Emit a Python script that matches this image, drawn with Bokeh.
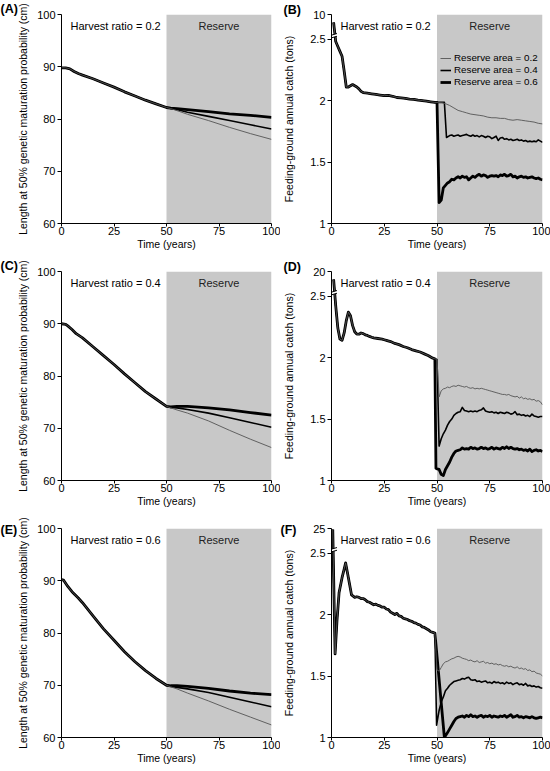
from bokeh.plotting import figure
from bokeh.layouts import row, column
from bokeh.models import (Range1d, FixedTicker, Label, BoxAnnotation, Legend, LegendItem)
from bokeh.embed import file_html
from bokeh.resources import INLINE

FONT = "Liberation Sans"

# ---------------- shared tick / category data ----------------
year_ticks = [0, 25, 50, 75, 100]
reserve_start = 50
reserve_end = 100
harvest_ratios = [0.2, 0.4, 0.6]
reserve_areas = [0.2, 0.4, 0.6]
letters_left = ["(A)", "(C)", "(E)"]
letters_right = ["(B)", "(D)", "(F)"]
length_ticks = [60, 70, 80, 90, 100]
catch_ticks = [1, 1.5, 2, 2.5]
catch_tick_labels = ["1", "1.5", "2", "2.5"]
catch_break = 2.5          # axis is broken above this value
catch_top_tons = [10, 20, 25]  # value of the top tick above the break

# ---------------- length at 50% maturation (left panels) ----------------
# harvest ratio 0.2
tA_pre = [0, 2, 4, 6, 8, 10, 15, 20, 25, 30, 35, 40, 45, 50]
lA_pre = [89.8, 89.8, 89.6, 89.1, 88.7, 88.4, 87.7, 86.9, 86.1, 85.2, 84.4, 83.6, 82.9, 82.2]
tA_post = [52, 55, 60, 70, 80, 90, 100]
lA_r02 = [82.0, 81.6, 80.9, 79.7, 78.4, 77.2, 76.1]
lA_r04 = [82.0, 81.8, 81.3, 80.5, 79.7, 78.9, 78.1]
lA_r06 = [82.1, 82.0, 81.8, 81.4, 81.0, 80.7, 80.3]
# harvest ratio 0.4
tC_pre = [0, 2, 3, 5, 7, 10, 15, 20, 25, 30, 35, 40, 45, 50]
lC_pre = [90.0, 89.9, 89.6, 88.9, 88.1, 87.3, 85.6, 83.9, 82.2, 80.4, 78.7, 77.0, 75.6, 74.2]
tC_post = [52, 55, 60, 70, 80, 90, 100]
lC_r02 = [73.9, 73.5, 72.9, 71.4, 69.6, 67.9, 66.3]
lC_r04 = [74.0, 73.9, 73.6, 72.9, 72.0, 71.1, 70.2]
lC_r06 = [74.1, 74.2, 74.2, 73.9, 73.5, 73.0, 72.5]
# harvest ratio 0.6
tE_pre = [0, 1, 3, 5, 8, 10, 15, 20, 25, 30, 35, 40, 45, 50]
lE_pre = [90.2, 90.1, 88.9, 87.9, 86.7, 85.8, 83.3, 80.8, 78.6, 76.4, 74.5, 72.8, 71.3, 70.0]
tE_post = [52, 55, 60, 70, 80, 90, 100]
lE_r02 = [69.7, 69.3, 68.5, 67.0, 65.4, 63.9, 62.4]
lE_r04 = [69.8, 69.6, 69.3, 68.6, 67.7, 66.8, 65.9]
lE_r06 = [69.9, 69.9, 69.8, 69.4, 68.9, 68.5, 68.2]

# ---------------- feeding-ground annual catch, tons (right panels) ----------------
# harvest ratio 0.2
tB_pre = [1, 2, 3, 4, 5, 6, 7, 8, 9, 10, 11, 12, 13, 14, 15, 17, 19, 21, 23, 25, 27, 29,
          31, 33, 35, 37, 39, 41, 43, 45, 47, 49, 50]
cB_pre = [7.6, 2.48, 2.44, 2.40, 2.36, 2.24, 2.11, 2.11, 2.12, 2.13, 2.12, 2.11, 2.095,
          2.075, 2.065, 2.06, 2.055, 2.05, 2.045, 2.04, 2.042, 2.035, 2.025, 2.022, 2.018,
          2.012, 2.01, 2.004, 2.0, 1.995, 1.99, 1.985, 1.985]
tB_r02 = [52, 54, 56, 58, 60, 62, 64, 66, 68, 70, 72, 74, 76, 78, 80, 82, 84, 86, 88, 90,
          92, 94, 96, 98, 100]
cB_r02 = [1.985, 1.975, 1.96, 1.94, 1.92, 1.91, 1.90, 1.89, 1.885, 1.88, 1.875, 1.865,
          1.86, 1.86, 1.855, 1.855, 1.845, 1.84, 1.845, 1.84, 1.835, 1.83, 1.825, 1.815, 1.81]
tB_r04 = [52, 53.5, 54.5, 56, 57, 58, 59, 60, 61, 62, 63, 64, 65, 66, 67, 68, 69, 70, 71,
          72, 73, 74, 75, 76, 77, 78, 79, 80, 81, 82, 83, 84, 85, 86, 87, 88, 89, 90, 91,
          92, 93, 94, 95, 96, 97, 98, 99, 100]
cB_r04 = [1.985, 1.985, 1.70, 1.715, 1.72, 1.71, 1.715, 1.72, 1.71, 1.715, 1.72, 1.725,
          1.715, 1.71, 1.72, 1.71, 1.715, 1.705, 1.715, 1.71, 1.70, 1.71, 1.705, 1.69, 1.70,
          1.71, 1.675, 1.695, 1.70, 1.685, 1.69, 1.68, 1.685, 1.675, 1.68, 1.685, 1.675,
          1.68, 1.67, 1.675, 1.665, 1.67, 1.665, 1.67, 1.665, 1.68, 1.67, 1.66]
tB_r06 = [51, 52, 53, 54, 55, 56, 57, 58, 59, 60, 61, 62, 63, 64, 65, 66, 67, 68, 69, 70,
          71, 72, 73, 74, 75, 76, 77, 78, 79, 80, 81, 82, 83, 84, 85, 86, 87, 88, 89, 90,
          91, 92, 93, 94, 95, 96, 97, 98, 99, 100]
cB_r06 = [1.17, 1.19, 1.29, 1.31, 1.33, 1.34, 1.36, 1.355, 1.37, 1.38, 1.37, 1.385, 1.375,
          1.38, 1.355, 1.37, 1.385, 1.375, 1.39, 1.40, 1.385, 1.395, 1.39, 1.375, 1.385,
          1.39, 1.385, 1.39, 1.38, 1.395, 1.39, 1.40, 1.385, 1.39, 1.40, 1.38, 1.385, 1.37,
          1.38, 1.385, 1.375, 1.38, 1.37, 1.375, 1.38, 1.37, 1.365, 1.37, 1.36, 1.355]

# harvest ratio 0.4
tD_pre = [1, 2, 3, 4, 5, 6, 7, 8, 9, 10, 11, 12, 13, 14, 15, 16, 17, 18, 19, 20, 22, 24,
          25, 26, 28, 30, 32, 34, 36, 38, 40, 42, 44, 46, 48, 49]
cD_pre = [14.4, 2.42, 2.24, 2.15, 2.14, 2.20, 2.30, 2.37, 2.34, 2.26, 2.21, 2.19, 2.19,
          2.20, 2.195, 2.185, 2.18, 2.172, 2.165, 2.16, 2.155, 2.15, 2.145, 2.14, 2.13,
          2.115, 2.105, 2.09, 2.08, 2.065, 2.055, 2.045, 2.03, 2.015, 1.995, 1.99]
years_51_100 = list(range(51, 101))
tD_r02 = [50] + years_51_100
cD_r02 = [1.985, 1.68, 1.73, 1.745, 1.75, 1.76, 1.755, 1.765, 1.77, 1.765, 1.775, 1.77,
          1.765, 1.76, 1.765, 1.755, 1.75, 1.755, 1.745, 1.75, 1.745, 1.75, 1.745, 1.74,
          1.735, 1.73, 1.725, 1.72, 1.715, 1.71, 1.705, 1.70, 1.70, 1.695, 1.70, 1.69,
          1.685, 1.68, 1.685, 1.67, 1.68, 1.665, 1.67, 1.66, 1.665, 1.655, 1.66, 1.645,
          1.65, 1.64, 1.615]
tD_r04 = [50] + years_51_100
cD_r04 = [1.985, 1.28, 1.34, 1.38, 1.41, 1.45, 1.48, 1.50, 1.53, 1.545, 1.555, 1.56,
          1.595, 1.57, 1.565, 1.56, 1.565, 1.56, 1.565, 1.56, 1.57, 1.575, 1.59, 1.565,
          1.56, 1.555, 1.56, 1.55, 1.555, 1.545, 1.555, 1.55, 1.545, 1.555, 1.55, 1.54,
          1.545, 1.56, 1.535, 1.54, 1.53, 1.535, 1.525, 1.53, 1.52, 1.54, 1.525, 1.52,
          1.515, 1.52, 1.52]
tD_r06 = [49.5, 50] + years_51_100
cD_r06 = [1.10, 1.095, 1.09, 1.05, 1.04, 1.09, 1.12, 1.15, 1.19, 1.22, 1.24, 1.245, 1.25,
          1.265, 1.255, 1.26, 1.255, 1.27, 1.26, 1.265, 1.255, 1.26, 1.27, 1.26, 1.265,
          1.255, 1.26, 1.27, 1.255, 1.265, 1.26, 1.255, 1.27, 1.26, 1.275, 1.26, 1.27,
          1.26, 1.255, 1.26, 1.25, 1.255, 1.245, 1.25, 1.24, 1.255, 1.235, 1.245, 1.25,
          1.24, 1.245, 1.235]

# harvest ratio 0.6
tF_pre = [0.6, 1.7, 2.6, 3.6, 5, 6, 6.7, 8, 9.5, 11, 12, 13, 14, 15, 16, 17, 18, 19, 20,
          21, 22, 23, 24, 25, 26, 27, 28, 29, 30, 31, 32, 33, 34, 35, 36, 37, 38, 39, 40,
          41, 42, 43, 44, 45, 46, 47, 48, 49]
cF_pre = [24.0, 1.68, 1.95, 2.18, 2.30, 2.37, 2.42, 2.30, 2.16, 2.14, 2.145, 2.14, 2.13,
          2.13, 2.12, 2.105, 2.10, 2.09, 2.08, 2.085, 2.075, 2.07, 2.06, 2.06, 2.045, 2.04,
          2.02, 2.01, 2.0, 2.01, 1.99, 1.985, 1.97, 1.965, 1.96, 1.95, 1.945, 1.935, 1.93,
          1.92, 1.915, 1.90, 1.895, 1.885, 1.875, 1.86, 1.855, 1.85]
tF_r02 = [50] + years_51_100
cF_r02 = [1.55, 1.54, 1.57, 1.60, 1.615, 1.62, 1.63, 1.64, 1.645, 1.655, 1.66, 1.655,
          1.645, 1.64, 1.635, 1.625, 1.63, 1.62, 1.615, 1.625, 1.61, 1.615, 1.62, 1.605,
          1.61, 1.60, 1.605, 1.595, 1.60, 1.59, 1.595, 1.585, 1.58, 1.585, 1.575, 1.58,
          1.57, 1.565, 1.575, 1.56, 1.565, 1.555, 1.56, 1.545, 1.55, 1.535, 1.54, 1.525,
          1.52, 1.515, 1.50]
tF_r04 = [49.8] + years_51_100
cF_r04 = [1.10, 1.22, 1.29, 1.33, 1.38, 1.40, 1.425, 1.44, 1.455, 1.46, 1.465, 1.47, 1.48,
          1.475, 1.485, 1.49, 1.47, 1.465, 1.47, 1.455, 1.46, 1.45, 1.455, 1.46, 1.445,
          1.45, 1.44, 1.455, 1.445, 1.45, 1.44, 1.445, 1.435, 1.45, 1.44, 1.445, 1.43,
          1.44, 1.445, 1.43, 1.435, 1.425, 1.44, 1.42, 1.425, 1.415, 1.42, 1.41, 1.415,
          1.405, 1.40]
tF_r06 = [53.5] + list(range(55, 101))
cF_r06 = [1.0, 1.04, 1.07, 1.10, 1.13, 1.155, 1.165, 1.17, 1.175, 1.165, 1.18, 1.17, 1.185,
          1.17, 1.175, 1.165, 1.175, 1.18, 1.165, 1.175, 1.17, 1.18, 1.165, 1.175, 1.17,
          1.165, 1.175, 1.17, 1.18, 1.165, 1.175, 1.185, 1.165, 1.17, 1.18, 1.165, 1.17,
          1.16, 1.17, 1.165, 1.16, 1.17, 1.16, 1.155, 1.16, 1.165, 1.16]

left_data = [
    (tA_pre, lA_pre, tA_post, [lA_r02, lA_r04, lA_r06]),
    (tC_pre, lC_pre, tC_post, [lC_r02, lC_r04, lC_r06]),
    (tE_pre, lE_pre, tE_post, [lE_r02, lE_r04, lE_r06]),
]
right_data = [
    (tB_pre, cB_pre, [(tB_r02, cB_r02), (tB_r04, cB_r04), (tB_r06, cB_r06)]),
    (tD_pre, cD_pre, [(tD_r02, cD_r02), (tD_r04, cD_r04), (tD_r06, cD_r06)]),
    (tF_pre, cF_pre, [(tF_r02, cF_r02), (tF_r04, cF_r04), (tF_r06, cF_r06)]),
]

# ---------------- styling ----------------
LINE_STYLES = [dict(line_color="#555555", line_width=0.9),
               dict(line_color="black", line_width=1.6),
               dict(line_color="black", line_width=2.8)]
GRAY = "#c8c8c8"
TOP_SPAN = 0.2  # display height of the section above the break
H = 257
# (x offset from the frame, standoff) of the panel letters
LETTER_POS_LEFT = [(-61, -2), (-61, -2), (-61, -16)]
LETTER_POS_RIGHT = [(-48, -4), (-48, -4), (-51, -16)]


def style(p, letter, letter_pos):
    for ax in (p.xaxis[0], p.yaxis[0]):
        ax.axis_line_color = "black"
        ax.axis_line_width = 1
        ax.major_tick_line_color = "black"
        ax.major_tick_in = 0
        ax.major_tick_out = 4
        ax.minor_tick_line_color = None
        ax.major_label_text_font = FONT
        ax.major_label_text_font_size = "11px"
        ax.major_label_text_color = "black"
        ax.axis_label_text_font = FONT
        ax.axis_label_text_font_size = "10.5px"
        ax.axis_label_text_font_style = "normal"
        ax.axis_label_text_color = "black"
    p.xaxis[0].major_tick_out = 3
    p.xaxis[0].major_label_standoff = 0
    p.xaxis[0].axis_label_standoff = 0
    p.yaxis[0].major_label_standoff = 2
    p.xgrid.visible = False
    p.ygrid.visible = False
    p.outline_line_color = None
    p.xaxis[0].ticker = FixedTicker(ticks=year_ticks)
    p.xaxis[0].axis_label = "Time (years)"
    p.title.text = letter
    p.title.align = "left"
    p.title.vertical_align = "bottom"
    p.title.offset = letter_pos[0]
    p.title.standoff = letter_pos[1]
    p.title.text_font = FONT
    p.title.text_font_size = "12.5px"
    p.title.text_font_style = "bold"
    p.title.text_color = "black"


def add_texts(p, harvest, ytop):
    p.add_layout(BoxAnnotation(left=reserve_start, right=reserve_end, fill_color=GRAY,
                               fill_alpha=1, line_color=None, level="underlay"))
    p.add_layout(Label(x=0, y=ytop, x_offset=9, y_offset=-11,
                       text=f"Harvest ratio = {harvest}", text_font=FONT,
                       text_font_size="11px", text_baseline="middle", text_align="left",
                       text_color="black"))
    p.add_layout(Label(x=(reserve_start + reserve_end) / 2, y=ytop, y_offset=-11,
                       text="Reserve", text_font=FONT, text_font_size="11px",
                       text_baseline="middle", text_align="center", text_color="#222222"))


def make_left(i):
    t_pre, v_pre, t_post, posts = left_data[i]
    p = figure(width=280, height=H, output_backend="svg", toolbar_location=None,
               x_range=Range1d(0, 100), y_range=Range1d(length_ticks[0], length_ticks[-1]),
               min_border_left=61, min_border_right=9, min_border_top=14,
               min_border_bottom=34)
    style(p, letters_left[i], LETTER_POS_LEFT[i])
    p.yaxis[0].ticker = FixedTicker(ticks=length_ticks)
    p.yaxis[0].axis_label = "Length at 50% genetic maturation probability (cm)"
    p.yaxis[0].axis_label_standoff = 5
    add_texts(p, harvest_ratios[i], length_ticks[-1])
    for k in (2, 1, 0):
        p.line(t_pre + t_post, v_pre + posts[k], line_join="round", **LINE_STYLES[k])
    return p


def make_right(i):
    t_pre, c_pre, posts = right_data[i]
    top = catch_top_tons[i]

    def disp(v):
        if v <= catch_break:
            return v
        return catch_break + (v - catch_break) / (top - catch_break) * TOP_SPAN

    ytop = catch_break + TOP_SPAN
    p = figure(width=270, height=H, output_backend="svg", toolbar_location=None,
               x_range=Range1d(0, 100), y_range=Range1d(catch_ticks[0], ytop),
               min_border_left=51, min_border_right=8, min_border_top=14,
               min_border_bottom=34)
    style(p, letters_right[i], LETTER_POS_RIGHT[i])
    ticks = catch_ticks + [ytop]
    p.yaxis[0].ticker = FixedTicker(ticks=ticks)
    overrides = {t: lab for t, lab in zip(catch_ticks, catch_tick_labels)}
    overrides[ytop] = str(top)
    p.yaxis[0].major_label_overrides = overrides
    p.yaxis[0].axis_label = "Feeding-ground annual catch (tons)"
    p.yaxis[0].axis_label_standoff = 12
    add_texts(p, harvest_ratios[i], ytop)
    rends = []
    for k in (2, 1, 0):
        tp, cp = posts[k]
        xs = [t for t in t_pre if t < tp[0]] + tp
        ys = [disp(v) for t, v in zip(t_pre, c_pre) if t < tp[0]] + [disp(v) for v in cp]
        r = p.line(xs, ys, line_join="round", **LINE_STYLES[k])
        rends.append((k, r))
    rends.sort()
    # axis break marks (the part inside the plotting area)
    yb = catch_break + 0.01
    dy = 0.022
    p.patch([0, 2.6, 2.6, 0], [yb, yb + dy * 0.6, yb + dy * 1.6, yb + dy],
            fill_color="white", line_color=None)
    p.segment(x0=[0, 0], y0=[yb, yb + dy], x1=[2.6, 2.6],
              y1=[yb + dy * 0.6, yb + dy * 1.6], line_color="black", line_width=1)
    if i == 0:
        items = [LegendItem(label=f"Reserve area = {reserve_areas[k]}", renderers=[r])
                 for k, r in rends]
        leg = Legend(items=items, location=(109, 136))
        leg.background_fill_alpha = 0
        leg.border_line_alpha = 0
        leg.label_text_font = FONT
        leg.label_text_font_size = "9.8px"
        leg.label_text_color = "black"
        leg.label_height = 10
        leg.glyph_height = 10
        leg.glyph_width = 11
        leg.spacing = 1
        leg.padding = 0
        leg.margin = 0
        leg.label_standoff = 3
        p.add_layout(leg)
    return p


rows = [row(make_left(i), make_right(i)) for i in range(3)]
layout = column(*rows)
open("out.html", "w").write(file_html(layout, INLINE))
